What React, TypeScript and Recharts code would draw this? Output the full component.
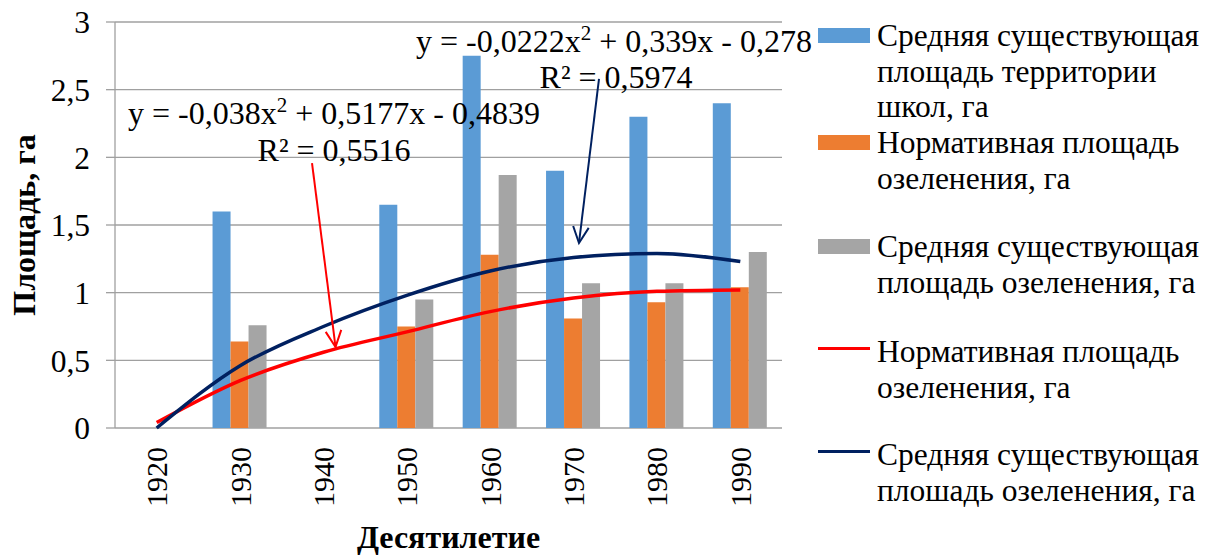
import React from "react";
import {
  ComposedChart,
  Bar,
  Line,
  XAxis,
  YAxis,
  CartesianGrid,
  Legend,
  ReferenceLine,
  ReferenceDot,
} from "recharts";

const years = ["1920", "1930", "1940", "1950", "1960", "1970", "1980", "1990"];
const schoolArea = [null, 1.6, null, 1.65, 2.75, 1.9, 2.3, 2.4];
const normGreenArea = [null, 0.64, null, 0.75, 1.28, 0.81, 0.93, 1.04];
const actualGreenArea = [null, 0.76, null, 0.95, 1.87, 1.07, 1.07, 1.3];
// трендовые линии
const normTrend = [0.04, 0.35, 0.56, 0.71, 0.86, 0.96, 1.01, 1.02];
const actualTrend = [0.0, 0.46, 0.75, 0.98, 1.16, 1.26, 1.29, 1.23];
const yTicks = [0, 0.5, 1, 1.5, 2, 2.5, 3];
const boundaryTicks = [0, 1, 2, 3, 4, 5, 6, 7, 8];

const seriesKeys = ["school", "norm", "actual", "normTrend", "actualTrend"];
const seriesNames = [
  "Средняя существующая\nплощадь территории\nшкол, га",
  "Нормативная площадь\nозеленения, га",
  "Средняя существующая\nплощадь озеленения, га",
  "Нормативная площадь\nозеленения, га",
  "Средняя существующая\nплошадь озеленения, га",
];

const data = years.map((year, i) => ({
  year,
  slot: i + 0.5,
  school: schoolArea[i],
  norm: normGreenArea[i],
  actual: actualGreenArea[i],
  normTrend: normTrend[i],
  actualTrend: actualTrend[i],
}));

const FONT = "'Liberation Serif', 'Times New Roman', Tinos, 'DejaVu Serif', serif";
const FS = 31.5;
const GRID = "#a0a0a0";

const Arrow = (color: string) => (props: any) => {
  const { x1, y1, x2, y2 } = props;
  const ang = Math.atan2(y2 - y1, x2 - x1);
  const len = 18;
  const spread = 0.45;
  const ax = x2 - len * Math.cos(ang - spread);
  const ay = y2 - len * Math.sin(ang - spread);
  const bx = x2 - len * Math.cos(ang + spread);
  const by = y2 - len * Math.sin(ang + spread);
  return (
    <g stroke={color} strokeWidth={2} fill="none">
      <line x1={x1} y1={y1} x2={x2} y2={y2} />
      <polyline points={`${ax},${ay} ${x2},${y2} ${bx},${by}`} />
    </g>
  );
};

const EqText = (parts: string[]) => (props: any) => {
  const { cx, cy } = props;
  return (
    <text
      x={cx}
      y={cy}
      dy="0.35em"
      textAnchor="middle"
      style={{ fontFamily: FONT }}
      fontSize={32}
      fill="#000"
    >
      {parts.length > 1 ? (
        <>
          <tspan>{parts[0]}</tspan>
          <tspan baselineShift="super" fontSize={21}>
            2
          </tspan>
          <tspan>{parts[1]}</tspan>
        </>
      ) : (
        parts[0]
      )}
    </text>
  );
};

const XTick = (props: any) => {
  const { x, y, payload } = props;
  return (
    <text
      x={x}
      y={y}
      transform={`rotate(-90, ${x}, ${y})`}
      textAnchor="end"
      dy="0.35em"
      style={{ fontFamily: FONT }}
      fontSize={30}
      fill="#000"
    >
      {payload.value}
    </text>
  );
};

const legendTops = [18, 125, 229, 334, 437];

const LegendContent = (props: any) => {
  const payload: any[] = props.payload || [];
  const entries = seriesKeys.map((k) => payload.find((p) => p.dataKey === k)).filter(Boolean);
  return (
    <div style={{ position: "relative", width: 394, height: 557 }}>
      {entries.map((entry: any, i: number) => {
        const top = legendTops[i];
        const isLine = entry.type === "line";
        return (
          <div key={i}>
            <div
              style={{
                position: "absolute",
                left: 2,
                top: isLine ? top + 13 : top + 10,
                width: 52,
                height: isLine ? 3 : 15,
                background: entry.color,
              }}
            />
            <div
              style={{
                position: "absolute",
                left: 61,
                top: top,
                whiteSpace: "pre",
                fontFamily: FONT,
                fontSize: FS,
                lineHeight: "35.5px",
                color: "#000",
              }}
            >
              {entry.value}
            </div>
          </div>
        );
      })}
    </div>
  );
};

export default function App() {
  return (
    <div style={{ position: "fixed", left: 0, top: 0, background: "#fff", fontFamily: FONT }}>
      <ComposedChart
        width={1210}
        height={557}
        data={data}
        margin={{ top: 22, right: 428, bottom: 0, left: 0 }}
        barCategoryGap="17%"
        barGap={0}
      >
        <CartesianGrid
          xAxisId="cat"
          horizontal={true}
          vertical={false}
          stroke={GRID}
          strokeWidth={1.3}
        />
        <XAxis
          xAxisId="grid"
          dataKey="slot"
          type="number"
          domain={[0, 8]}
          allowDataOverflow={true}
          ticks={boundaryTicks}
          height={0}
          tick={false}
          tickSize={10}
          stroke={GRID}
          strokeWidth={1.3}
        />
        <XAxis
          xAxisId="cat"
          dataKey="year"
          height={129}
          interval={0}
          tickLine={false}
          axisLine={false}
          tickSize={10}
          tickMargin={9}
          tick={<XTick />}
          label={(p: any) => {
            const vb = p.viewBox || { x: 115, y: 428, width: 667 };
            return (
              <text
                x={vb.x + vb.width / 2}
                y={vb.y + 120}
                textAnchor="middle"
                style={{ fontFamily: FONT }}
                fontWeight="bold"
                fontSize={32}
                fill="#000"
              >
                Десятилетие
              </text>
            );
          }}
        />
        <YAxis
          width={115}
          domain={[0, 3]}
          ticks={yTicks}
          tickSize={9}
          tickMargin={16}
          stroke={GRID}
          strokeWidth={1.3}
          tickFormatter={(v: number) => String(v).replace(".", ",")}
          tick={{ fontFamily: FONT, fontSize: FS, fill: "#000" }}
          label={(p: any) => {
            const vb = p.viewBox || { x: 0, y: 22, width: 115, height: 406 };
            const cy = vb.y + vb.height / 2;
            return (
              <text
                x={35}
                y={cy}
                transform={`rotate(-90, 35, ${cy})`}
                textAnchor="middle"
                style={{ fontFamily: FONT }}
                fontWeight="bold"
                fontSize={32}
                fill="#000"
              >
                Площадь, га
              </text>
            );
          }}
        />
        <Bar
          xAxisId="cat"
          dataKey="school"
          name={seriesNames[0]}
          fill="#5b9bd5"
          isAnimationActive={false}
        />
        <Bar
          xAxisId="cat"
          dataKey="norm"
          name={seriesNames[1]}
          fill="#ed7d31"
          isAnimationActive={false}
        />
        <Bar
          xAxisId="cat"
          dataKey="actual"
          name={seriesNames[2]}
          fill="#a5a5a5"
          isAnimationActive={false}
        />
        <Line
          xAxisId="cat"
          type="monotone"
          dataKey="normTrend"
          name={seriesNames[3]}
          stroke="#ff0000"
          strokeWidth={3.5}
          dot={false}
          legendType="line"
          isAnimationActive={false}
        />
        <Line
          xAxisId="cat"
          type="monotone"
          dataKey="actualTrend"
          name={seriesNames[4]}
          stroke="#002060"
          strokeWidth={3.5}
          dot={false}
          legendType="line"
          isAnimationActive={false}
        />
        <ReferenceLine
          xAxisId="grid"
          segment={[
            { x: 2.363, y: 1.958 },
            { x: 2.645, y: 0.599 },
          ]}
          ifOverflow="visible"
          shape={Arrow("#ff0000")}
        />
        <ReferenceLine
          xAxisId="grid"
          segment={[
            { x: 5.805, y: 2.579 },
            { x: 5.565, y: 1.367 },
          ]}
          ifOverflow="visible"
          shape={Arrow("#002060")}
        />
        <ReferenceDot
          xAxisId="grid"
          x={2.627}
          y={2.328}
          ifOverflow="visible"
          shape={EqText(["y = -0,038x", " + 0,5177x - 0,4839"])}
        />
        <ReferenceDot
          xAxisId="grid"
          x={2.627}
          y={2.054}
          ifOverflow="visible"
          shape={EqText(["R² = 0,5516"])}
        />
        <ReferenceDot
          xAxisId="grid"
          x={5.985}
          y={2.86}
          ifOverflow="visible"
          shape={EqText(["y = -0,0222x", " + 0,339x - 0,278"])}
        />
        <ReferenceDot
          xAxisId="grid"
          x={6.01}
          y={2.594}
          ifOverflow="visible"
          shape={EqText(["R² = 0,5974"])}
        />
        <Legend
          layout="horizontal"
          verticalAlign="middle"
          align="center"
          wrapperStyle={{ position: "absolute", left: 816, top: 0, width: 394, height: 557 }}
          content={<LegendContent />}
        />
      </ComposedChart>
    </div>
  );
}
